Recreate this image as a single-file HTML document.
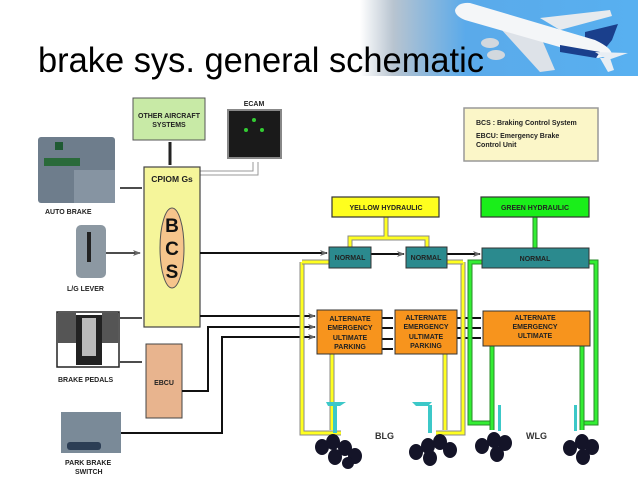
<!DOCTYPE html>
<html><head><meta charset="utf-8"><style>
html,body{margin:0;padding:0;background:#fff;width:638px;height:479px;overflow:hidden}
svg{display:block}
text{font-family:"Liberation Sans",sans-serif}
.b{font-weight:bold;font-size:7px;fill:#222}
</style></head><body>
<svg width="638" height="479" viewBox="0 0 638 479" xmlns="http://www.w3.org/2000/svg">
<defs>
<linearGradient id="sky" x1="0" x2="1" y1="0" y2="0">
<stop offset="0" stop-color="#fff"/><stop offset="0.12" stop-color="#b8c4d0"/><stop offset="0.38" stop-color="#5aaaea"/><stop offset="1" stop-color="#58b0f0"/>
</linearGradient>
<marker id="ar" markerWidth="8" markerHeight="6" refX="7" refY="3" orient="auto" markerUnits="userSpaceOnUse"><path d="M0,0 L8,3 L0,6 L2,3z" fill="#666"/></marker>
</defs>
<rect x="360" y="0" width="278" height="76" fill="url(#sky)"/>
<!-- plane -->
<g>
<path d="M540,18 L610,10 L612,16 L560,30Z" fill="#e6eaee"/>
<path d="M500,28 L540,72 L555,70 L540,35Z" fill="#dde2e8"/>
<path d="M585,32 L618,24 L612,40 L600,55 L585,50Z" fill="#1a3f8c"/>
<path d="M455,10 Q458,2 470,3 L595,40 Q612,48 612,55 L598,58 L465,20 Q455,16 455,10Z" fill="#f4f6f8"/>
<path d="M560,45 L600,52 L596,58 L560,52Z" fill="#1a3f8c"/>
<path d="M595,52 L628,53 L608,60Z" fill="#e8eef4"/>
<path d="M600,58 L608,72 L614,70 L610,58Z" fill="#e8eef4"/>
<ellipse cx="490" cy="43" rx="9" ry="5" fill="#d2d8de"/>
<ellipse cx="496" cy="55" rx="9" ry="5" fill="#d2d8de"/>
</g>
<text x="38" y="72" font-family="Liberation Sans" font-size="35" textLength="446" lengthAdjust="spacingAndGlyphs" fill="#000">brake sys. general schematic</text>

<!-- note -->
<rect x="464" y="108" width="134" height="53" fill="#fbf6c8" stroke="#999" stroke-width="1.5"/>
<text class="b" x="476" y="125">BCS : Braking Control System</text>
<text class="b" x="476" y="138">EBCU: Emergency Brake</text>
<text class="b" x="476" y="147">Control Unit</text>

<!-- left devices -->
<rect x="38" y="137" width="77" height="66" rx="3" fill="#6e7d8c"/>
<rect x="44" y="158" width="36" height="8" fill="#2a6a3a"/>
<rect x="55" y="142" width="8" height="8" fill="#1f5a33"/>
<rect x="74" y="170" width="41" height="33" fill="#8694a2"/>
<text class="b" x="45" y="214">AUTO BRAKE</text>

<rect x="76" y="225" width="30" height="53" rx="5" fill="#8c98a2"/>
<rect x="87" y="232" width="4" height="30" fill="#222"/>
<text class="b" x="67" y="291">L/G LEVER</text>

<rect x="57" y="312" width="62" height="55" fill="#fff" stroke="#222" stroke-width="1.5"/>
<rect x="58" y="313" width="18" height="30" fill="#555"/>
<rect x="102" y="313" width="16" height="30" fill="#555"/>
<rect x="76" y="315" width="26" height="50" fill="#222"/>
<rect x="82" y="318" width="14" height="38" fill="#bbb"/>
<text class="b" x="58" y="382">BRAKE PEDALS</text>

<rect x="61" y="412" width="60" height="41" fill="#7a8a98"/>
<rect x="67" y="442" width="34" height="8" rx="3" fill="#2c3e55"/>
<text class="b" x="65" y="465">PARK BRAKE</text>
<text class="b" x="75" y="474">SWITCH</text>

<!-- other / ecam -->
<rect x="133" y="98" width="72" height="42" fill="#c8eaa6" stroke="#555"/>
<text class="b" x="169" y="118" text-anchor="middle">OTHER AIRCRAFT</text>
<text class="b" x="169" y="127" text-anchor="middle">SYSTEMS</text>
<text class="b" x="254" y="106" text-anchor="middle">ECAM</text>
<rect x="228" y="110" width="53" height="48" fill="#1a1a1a" stroke="#888" stroke-width="2"/>
<circle cx="254" cy="120" r="2" fill="#3c3"/><circle cx="246" cy="130" r="2" fill="#3c3"/><circle cx="262" cy="130" r="2" fill="#3c3"/>
<path d="M170,142 V165" stroke="#222" stroke-width="3"/>
<path d="M200,175 H258 V162 M200,171 H253 V162" stroke="#999" fill="none"/>

<!-- CPIOM -->
<rect x="144" y="167" width="56" height="160" fill="#f5f59a" stroke="#444" stroke-width="1.2"/>
<text x="172" y="182" text-anchor="middle" font-weight="bold" font-size="8.5" fill="#222">CPIOM Gs</text>
<ellipse cx="172" cy="248" rx="12" ry="40" fill="#f6c58c" stroke="#555"/>
<text x="172" y="232" text-anchor="middle" font-weight="bold" font-size="19" fill="#111">B</text>
<text x="172" y="255" text-anchor="middle" font-weight="bold" font-size="19" fill="#111">C</text>
<text x="172" y="278" text-anchor="middle" font-weight="bold" font-size="19" fill="#111">S</text>
<rect x="146" y="344" width="36" height="74" fill="#e8b48e" stroke="#444"/>
<text class="b" x="164" y="385" text-anchor="middle">EBCU</text>

<g stroke="#111" stroke-width="1.5" fill="none">
<path d="M120,188 H142"/><path d="M106,253 H140" marker-end="url(#ar)"/>
<path d="M120,318 H142"/><path d="M120,362 H142"/>
<path d="M200,253 H327" stroke-width="2" marker-end="url(#ar)"/>
<path d="M371,254 H404" stroke-width="2" marker-end="url(#ar)"/>
<path d="M447,254 H480" stroke-width="2" marker-end="url(#ar)"/>
<path d="M200,316 H315" stroke-width="2" marker-end="url(#ar)"/>
<path d="M182,391 H208 V327 H315" stroke-width="2" marker-end="url(#ar)"/>
<path d="M121,433 H222 V337 H315" stroke-width="2" marker-end="url(#ar)"/>
<path d="M382,318 H393 M382,328 H393 M382,339 H393 M382,349 H393" stroke-width="2"/>
<path d="M457,318 H481 M457,328 H481 M457,338 H481" stroke-width="2"/>
</g>

<!-- hydraulics -->
<g fill="none">
<path d="M302,262 V433 H341 M463,262 V433 H436" stroke="#888" stroke-width="5"/>
<path d="M302,262 V433 H341 M463,262 V433 H436" stroke="#ffff20" stroke-width="3"/>
<path d="M302,262 H329 M447,262 H463" stroke="#888" stroke-width="5"/>
<path d="M302,262 H329 M447,262 H463" stroke="#ffff20" stroke-width="3"/>
<path d="M386,217 V238 H350 V247 M386,238 H427 V247" stroke="#888" stroke-width="5"/>
<path d="M386,217 V238 H350 V247 M386,238 H427 V247" stroke="#ffff20" stroke-width="3"/>
<path d="M332,354 V430 M445,354 V430" stroke="#888" stroke-width="5"/>
<path d="M332,354 V430 M445,354 V430" stroke="#ffff20" stroke-width="3"/>
<path d="M482,262 H470 V423 H492 M589,262 H596 V423 H582" stroke="#2a8a2a" stroke-width="5"/>
<path d="M482,262 H470 V423 H492 M589,262 H596 V423 H582" stroke="#33ee33" stroke-width="3"/>
<path d="M535,217 V248 M492,346 V430 M582,346 V430" stroke="#2a8a2a" stroke-width="5"/>
<path d="M535,217 V248 M492,346 V430 M582,346 V430" stroke="#33ee33" stroke-width="3"/>
</g>
<rect x="332" y="197" width="107" height="20" fill="#ffff1e" stroke="#333" stroke-width="1.2"/>
<text class="b" x="386" y="210" text-anchor="middle">YELLOW HYDRAULIC</text>
<rect x="481" y="197" width="108" height="20" fill="#1aee1a" stroke="#333" stroke-width="1.2"/>
<text class="b" x="535" y="210" text-anchor="middle">GREEN HYDRAULIC</text>
<g fill="#2b8a8e" stroke="#333">
<rect x="329" y="247" width="42" height="21"/><rect x="406" y="247" width="41" height="21"/><rect x="482" y="248" width="107" height="20"/>
</g>
<text class="b" x="350" y="260" text-anchor="middle">NORMAL</text>
<text class="b" x="426" y="260" text-anchor="middle">NORMAL</text>
<text class="b" x="535" y="261" text-anchor="middle">NORMAL</text>
<g fill="#f7941d" stroke="#333">
<rect x="317" y="310" width="65" height="44"/><rect x="395" y="310" width="62" height="44"/><rect x="483" y="311" width="107" height="35"/>
</g>
<text class="b" x="350" y="321" text-anchor="middle">ALTERNATE</text><text class="b" x="350" y="330" text-anchor="middle">EMERGENCY</text><text class="b" x="350" y="340" text-anchor="middle">ULTIMATE</text><text class="b" x="350" y="349" text-anchor="middle">PARKING</text>
<text class="b" x="426" y="320" text-anchor="middle">ALTERNATE</text><text class="b" x="426" y="329" text-anchor="middle">EMERGENCY</text><text class="b" x="426" y="339" text-anchor="middle">ULTIMATE</text><text class="b" x="426" y="348" text-anchor="middle">PARKING</text>
<text class="b" x="535" y="320" text-anchor="middle">ALTERNATE</text><text class="b" x="535" y="329" text-anchor="middle">EMERGENCY</text><text class="b" x="535" y="338" text-anchor="middle">ULTIMATE</text>
<!-- gear -->
<g fill="#3cc8c8"><path d="M326,402 h20 l-6,4 h-12z"/><rect x="333" y="405" width="4" height="28"/>
<path d="M412,402 h20 l-4,4 h-12z"/><rect x="428" y="405" width="4" height="28"/>
<rect x="498" y="405" width="3" height="26"/><rect x="574" y="405" width="3" height="26"/></g>
<g fill="#141428">
<ellipse cx="322" cy="447" rx="7" ry="8"/><ellipse cx="333" cy="442" rx="7" ry="8"/><ellipse cx="345" cy="448" rx="7" ry="8"/><ellipse cx="335" cy="457" rx="7" ry="8"/><ellipse cx="355" cy="456" rx="7" ry="8"/><ellipse cx="348" cy="463" rx="6" ry="6"/>
<ellipse cx="416" cy="452" rx="7" ry="8"/><ellipse cx="428" cy="446" rx="7" ry="8"/><ellipse cx="440" cy="442" rx="7" ry="8"/><ellipse cx="430" cy="458" rx="7" ry="8"/><ellipse cx="450" cy="450" rx="7" ry="8"/>
<ellipse cx="482" cy="446" rx="7" ry="8"/><ellipse cx="494" cy="440" rx="7" ry="8"/><ellipse cx="505" cy="443" rx="7" ry="8"/><ellipse cx="497" cy="454" rx="7" ry="8"/>
<ellipse cx="570" cy="448" rx="7" ry="8"/><ellipse cx="582" cy="442" rx="7" ry="8"/><ellipse cx="592" cy="447" rx="7" ry="8"/><ellipse cx="583" cy="457" rx="7" ry="8"/>
</g>
<text x="375" y="439" font-weight="bold" font-size="9" fill="#333">BLG</text>
<text x="526" y="439" font-weight="bold" font-size="9" fill="#333">WLG</text>
</svg>
</body></html>
